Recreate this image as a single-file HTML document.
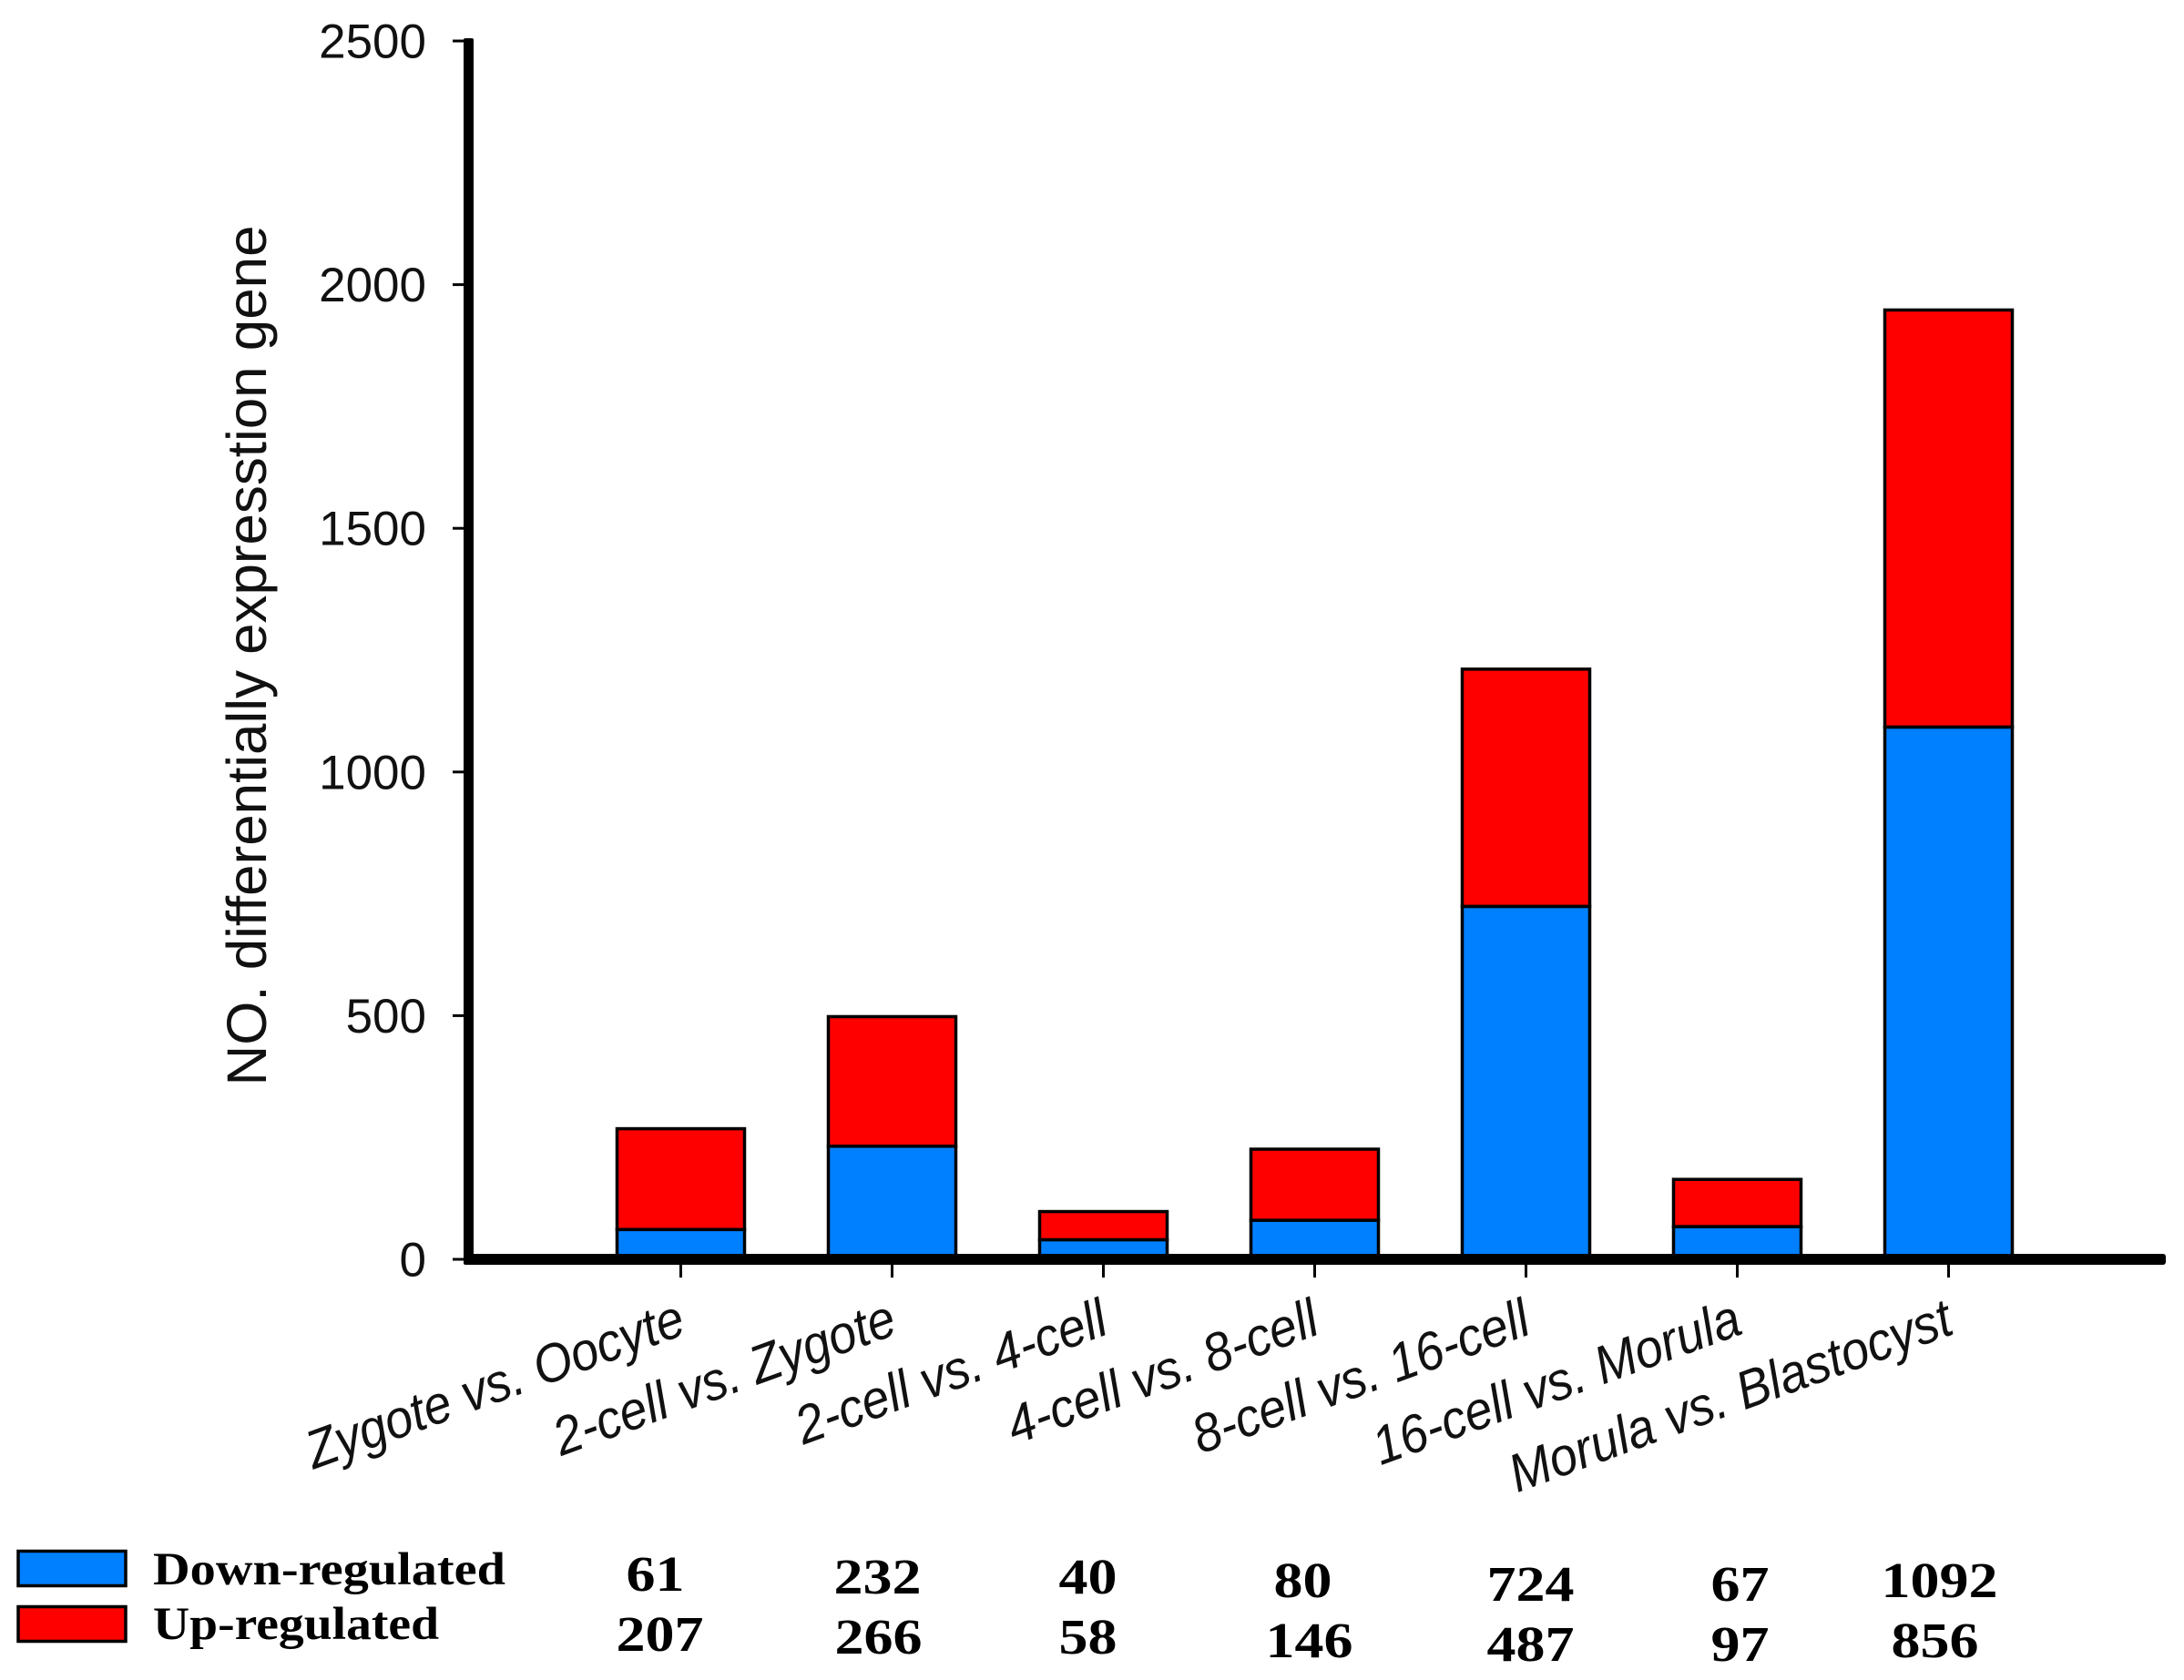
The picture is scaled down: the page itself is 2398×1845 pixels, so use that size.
<!DOCTYPE html>
<html lang="en">
<head>
<meta charset="utf-8">
<title>Differentially expressed genes by stage</title>
<style>
html,body{margin:0;padding:0;background:#fff;}
svg{display:block;}
.tick-label{font-family:"Liberation Sans",sans-serif;font-size:53px;fill:#111;}
.y-title{font-family:"Liberation Sans",sans-serif;font-size:61px;fill:#111;}
.cat{font-family:"Liberation Sans",sans-serif;font-style:italic;font-size:59px;fill:#111;}
.tbl{font-family:"Liberation Serif",serif;font-weight:bold;font-size:55px;fill:#000;}
.leg{font-family:"Liberation Serif",serif;font-weight:bold;font-size:51px;fill:#000;}
</style>
</head>
<body>
<svg id="chart" xmlns="http://www.w3.org/2000/svg" width="2398" height="1845" viewBox="0 0 2398 1845">
  <rect x="0" y="0" width="2398" height="1845" fill="#fff"/>
  <g id="bars"></g>
  <g id="axes"></g>
  <text class="y-title" transform="translate(292,720) rotate(-90)" text-anchor="middle" textLength="945" lengthAdjust="spacingAndGlyphs">NO. differentially expresstion gene</text>
  <g id="cats"></g>
  <g id="table"></g>
  <g>
    <rect x="20" y="1703.5" width="118" height="38" fill="#0080ff" stroke="#000" stroke-width="3.5"/>
    <text class="leg" x="168" y="1740" textLength="387" lengthAdjust="spacingAndGlyphs">Down-regulated</text>
    <rect x="20" y="1764.5" width="118" height="38" fill="#ff0000" stroke="#000" stroke-width="3.5"/>
    <text class="leg" x="168" y="1800" textLength="314" lengthAdjust="spacingAndGlyphs">Up-regulated</text>
  </g>
</svg>
<script>
const categories = ["Zygote vs. Oocyte","2-cell vs. Zygote","2-cell vs. 4-cell","4-cell vs. 8-cell","8-cell vs. 16-cell","16-cell vs. Morula","Morula vs. Blastocyst"];
const downRegulated = [61,232,40,80,724,67,1092];
const upRegulated = [207,266,58,146,487,97,856];
const yTicks = [0,500,1000,1500,2000,2500];

/* hand-placement of the printed table, which drifts in the source figure */
const downColumnNudge = [-28,-16,-17,-13,5,3,-10];
const upColumnNudge = [-23,-15,-17,-6,5,3,-15];
const rowDrift = [0,3,3,7,11,11,7];

const NS = "http://www.w3.org/2000/svg";
function yScale(v){ return 1383 - v * 0.5352; }
function xScale(i){ return 747.5 + i * 232; }
function make(tag, attrs, parent, text){
  const el = document.createElementNS(NS, tag);
  for (const k in attrs) el.setAttribute(k, attrs[k]);
  if (text !== undefined) el.textContent = text;
  parent.appendChild(el);
  return el;
}
const barsG = document.getElementById("bars");
const axesG = document.getElementById("axes");
const catsG = document.getElementById("cats");
const tableG = document.getElementById("table");
const BAR_W = 140;

categories.forEach(function(cat, i){
  const cx = xScale(i);
  const yDown = yScale(downRegulated[i]);
  const yUp = yScale(downRegulated[i] + upRegulated[i]);
  const up = make("rect", {x:cx-BAR_W/2, y:yUp, width:BAR_W, height:yDown-yUp, fill:"#ff0000", stroke:"#000", "stroke-width":3.5}, barsG);
  
  
  const down = make("rect", {x:cx-BAR_W/2, y:yDown, width:BAR_W, height:yScale(0)-yDown, fill:"#0080ff", stroke:"#000", "stroke-width":3.5}, barsG);
  
  

  const tick = make("line", {x1:cx, x2:cx, y1:yScale(0), y2:1403, stroke:"#000", "stroke-width":3}, axesG);
  
  

  const lx = cx + 8;
  const label = make("text", {"class":"cat", "text-anchor":"end", transform:"translate("+lx+",1464) rotate(-20) scale(0.92,1)"}, catsG, cat);
  
  

  const dn = String(downRegulated[i]);
  const un = String(upRegulated[i]);
  const dv = make("text", {"class":"tbl", x:cx+downColumnNudge[i], y:1747+rowDrift[i], "text-anchor":"middle", textLength:dn.length*32, lengthAdjust:"spacingAndGlyphs"}, tableG, dn);
  
  
  const uv = make("text", {"class":"tbl", x:cx+upColumnNudge[i], y:1813+rowDrift[i], "text-anchor":"middle", textLength:un.length*32, lengthAdjust:"spacingAndGlyphs"}, tableG, un);
  
  
});

yTicks.forEach(function(t){
  const y = yScale(t);
  const tick = make("line", {x1:497, x2:512, y1:y, y2:y, stroke:"#000", "stroke-width":3}, axesG);
  
  
  const lab = make("text", {"class":"tick-label", x:468, y:y+18.5, "text-anchor":"end"}, axesG, String(t));
  
  
});

const yAxis = make("rect", {x:509, y:42, width:11, height:1347, fill:"#000", rx:2}, axesG);


const xAxis = make("rect", {x:509, y:1377, width:1869, height:12, fill:"#000", rx:3}, axesG);


</script>
</body>
</html>
